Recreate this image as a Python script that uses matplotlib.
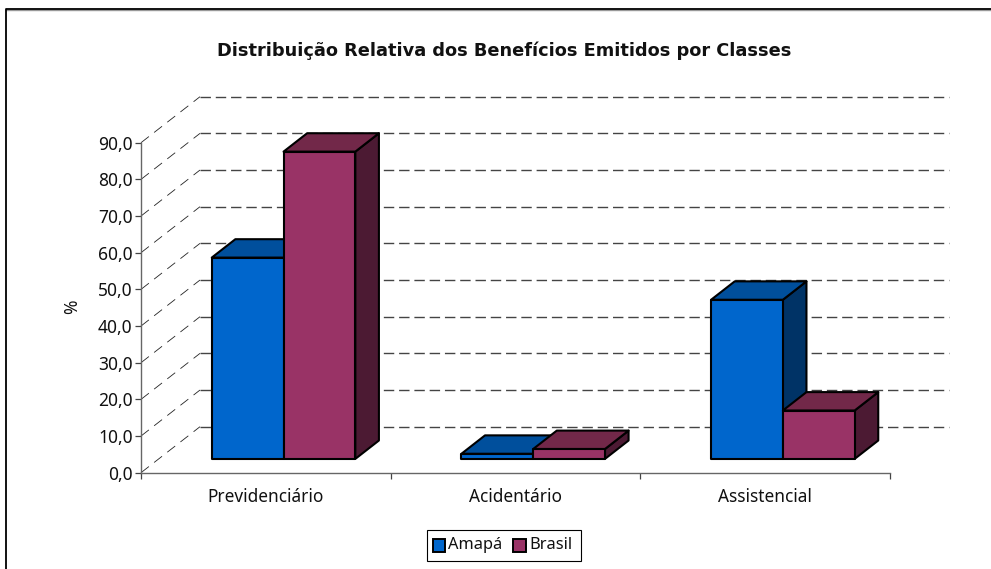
import matplotlib
matplotlib.use('Agg')
import matplotlib.pyplot as plt
from matplotlib.lines import Line2D
from matplotlib.patches import Polygon, Rectangle

categorias = ['Previdenciário', 'Acidentário', 'Assistencial']
amapa = [54.9, 1.4, 43.4]
brasil = [83.8, 2.7, 13.2]
ticks_y = [0, 10, 20, 30, 40, 50, 60, 70, 80, 90]

# cores: frente, topo, lateral
cor_amapa = ('#0066CC', '#004F9C', '#003366')
cor_brasil = ('#993366', '#722849', '#4C1A33')

W, H = 991, 569
plt.rcParams['font.family'] = ['Noto Sans', 'DejaVu Sans']

fig = plt.figure(figsize=(W / 100, H / 100), dpi=100)
ax = fig.add_axes([141 / W, 1 - 472.7 / H, 749 / W, 330 / H])
ax.set_xlim(0, 3)
ax.set_ylim(0, 90)
ax.patch.set_alpha(0)

# profundidade do "3D" em unidades dos eixos
prof_x = 59 / 749 * 3
prof_y = 46 / 330 * 90


def desloca(x, y, p):
    return (x + prof_x * p, y + prof_y * p)


# linhas de grade da parede do fundo e diagonais do piso
for v in ticks_y:
    ax.plot([prof_x, 3 + prof_x], [v + prof_y, v + prof_y], color='#444444', lw=1.0,
            dashes=(7.5, 3.5), clip_on=False, zorder=1)
    ax.plot([0, prof_x], [v, v + prof_y], color='#222222', lw=0.6,
            dashes=(12, 8), clip_on=False, zorder=1)


def barra(x, larg, valor, cores, z):
    p0, p1 = 0.3, 0.7
    frente = [desloca(x, 0, p0), desloca(x + larg, 0, p0),
              desloca(x + larg, valor, p0), desloca(x, valor, p0)]
    topo = [desloca(x, valor, p0), desloca(x + larg, valor, p0),
            desloca(x + larg, valor, p1), desloca(x, valor, p1)]
    lado = [desloca(x + larg, 0, p0), desloca(x + larg, 0, p1),
            desloca(x + larg, valor, p1), desloca(x + larg, valor, p0)]
    for pts, cor in ((lado, cores[2]), (topo, cores[1]), (frente, cores[0])):
        ax.add_patch(Polygon(pts, closed=True, facecolor=cor, edgecolor='black', lw=1.5,
                             joinstyle='round', clip_on=False, zorder=z))


larg = 0.2875
for i in range(len(categorias)):
    barra(i + 0.5 - larg, larg, amapa[i], cor_amapa, 3)
    barra(i + 0.5, larg, brasil[i], cor_brasil, 4)

for lado in ('top', 'right'):
    ax.spines[lado].set_visible(False)
for lado in ('left', 'bottom'):
    ax.spines[lado].set_color('#666666')
    ax.spines[lado].set_linewidth(1.0)

ax.set_yticks(ticks_y)
ax.set_yticklabels([f'{v:.1f}'.replace('.', ',') for v in ticks_y], fontsize=12.5, color='#111111')
ax.set_xticks([0, 1, 2, 3])
ax.set_xticklabels([])
ax.tick_params(axis='both', length=4.5, width=0.9, color='#444444', pad=1.5)
for i, nome in enumerate(categorias):
    ax.annotate(nome, (i + 0.5, 0), xytext=(0, -17.6), textcoords='offset points',
                ha='center', va='center', fontsize=12.4, color='#111111', annotation_clip=False)

fig.text(72 / W, 1 - 307 / H, '%', rotation=90, ha='center', va='center', fontsize=12.5, color='#111111')
fig.text(504 / W, 1 - 51 / H, 'Distribuição Relativa dos Benefícios Emitidos por Classes',
         ha='center', va='center', fontsize=12.8, fontweight='bold', color='#111111',
         family='DejaVu Sans')

# borda externa: so em cima e na esquerda
fig.add_artist(Line2D([1, 6 / W], [1 - 9.5 / H, 1 - 9.5 / H], transform=fig.transFigure,
                      color='#999999', lw=1.0))
fig.add_artist(Line2D([1, 6 / W, 6 / W], [1 - 8.5 / H, 1 - 8.5 / H, 0], transform=fig.transFigure,
                      color='black', lw=1.3))

# legenda
fig.add_artist(Rectangle((426.5 / W, 1 - 560.5 / H), 154 / W, 30.5 / H, transform=fig.transFigure,
                         facecolor='white', edgecolor='black', lw=0.8))
for x0, cor, nome in ((432.5, cor_amapa[0], 'Amapá'), (513, cor_brasil[0], 'Brasil')):
    fig.add_artist(Rectangle((x0 / W, 1 - 552 / H), 12.5 / W, 13.5 / H, transform=fig.transFigure,
                             facecolor=cor, edgecolor='black', lw=1.4))
    fig.text((x0 + 16) / W, 1 - 545 / H, nome, ha='left', va='center', fontsize=11.8, color='#111111')

fig.savefig('out.png', dpi=100)
